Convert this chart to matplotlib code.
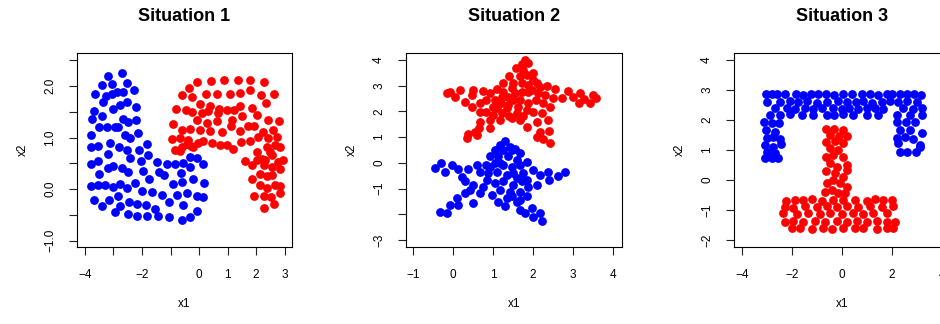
import numpy as np
import matplotlib.pyplot as plt

plt.rcParams['font.family'] = ['Liberation Sans', 'DejaVu Sans']

# --- Situation 1: two interleaved half-moons ---
s1_blue = np.array([
    [-2.71, 2.25], [-3.20, 2.19], [-2.53, 2.06], [-3.40, 2.02], [-3.04, 2.03], [-3.65, 1.85],
    [-2.29, 1.92], [-3.26, 1.80], [-3.06, 1.84], [-2.87, 1.89], [-2.65, 1.89], [-3.36, 1.69],
    [-2.54, 1.69], [-2.77, 1.63], [-3.01, 1.56], [-2.22, 1.60], [-3.70, 1.51], [-3.77, 1.36],
    [-3.39, 1.42], [-2.65, 1.36], [-2.48, 1.30], [-2.22, 1.34], [-3.51, 1.21], [-3.24, 1.21],
    [-2.95, 1.21], [-2.83, 1.21], [-3.79, 1.06], [-2.60, 1.06], [-2.42, 1.00], [-2.13, 1.08],
    [-3.79, 0.81], [-3.53, 0.84], [-3.12, 0.90], [-2.80, 0.81], [-2.54, 0.76], [-2.42, 0.61],
    [-2.09, 0.76], [-1.81, 0.87], [-3.18, 0.68], [-3.79, 0.48], [-3.53, 0.54], [-3.01, 0.45],
    [-3.18, 0.41], [-2.71, 0.42], [-2.48, 0.34], [-3.50, 0.30], [-2.04, 0.54], [-1.78, 0.66],
    [-1.95, 0.36], [-1.49, 0.53], [-1.13, 0.48], [-0.84, 0.48], [-1.39, 0.34], [-1.23, 0.27],
    [-0.55, 0.50], [-0.32, 0.63], [-0.08, 0.61], [-0.32, 0.43], [0.15, 0.48], [-0.64, 0.32],
    [-1.74, 0.19], [-2.25, 0.13], [-3.79, 0.06], [-3.53, 0.08], [-3.30, 0.08], [-3.03, 0.05],
    [-2.77, 0.11], [-2.54, 0.03], [-2.01, -0.04], [-1.66, -0.05], [-0.92, 0.10], [-0.61, 0.14],
    [-0.22, 0.19], [0.18, 0.13], [-3.67, -0.21], [-3.15, -0.21], [-3.39, -0.32], [-2.83, -0.13],
    [-2.77, -0.32], [-2.95, -0.44], [-2.44, -0.25], [-2.16, -0.29], [-1.86, -0.31], [-1.31, -0.12],
    [-1.04, -0.25], [-0.78, -0.12], [-0.43, -0.07], [-0.08, -0.13], [0.13, -0.15], [-0.55, -0.30],
    [-0.06, -0.42], [-1.54, -0.39], [-2.50, -0.49], [-2.16, -0.52], [-1.84, -0.52], [-1.43, -0.52],
    [-1.04, -0.54], [-0.61, -0.59], [-0.32, -0.54],
])
s1_red = np.array([
    [-0.06, 2.07], [0.41, 2.10], [0.89, 2.11], [1.36, 2.11], [1.80, 2.11], [2.28, 2.07],
    [-0.35, 1.97], [-0.61, 1.82], [0.23, 1.84], [0.62, 1.84], [1.09, 1.84], [1.42, 1.87],
    [1.80, 1.92], [2.19, 1.82], [2.62, 1.84], [-0.26, 1.79], [0.04, 1.66], [0.39, 1.61],
    [0.71, 1.56], [0.97, 1.53], [1.24, 1.54], [1.44, 1.61], [1.86, 1.58], [2.35, 1.67],
    [-0.80, 1.55], [-0.46, 1.53], [-0.23, 1.49], [0.12, 1.47], [0.30, 1.51], [0.68, 1.47],
    [-0.08, 1.34], [0.27, 1.29], [0.62, 1.32], [1.15, 1.34], [1.50, 1.41], [2.02, 1.43],
    [2.43, 1.34], [2.80, 1.32], [-0.90, 1.27], [-0.61, 1.14], [-0.32, 1.16], [0.04, 1.14],
    [0.39, 1.12], [0.82, 1.11], [1.11, 1.22], [1.42, 1.12], [1.73, 1.22], [1.91, 1.22],
    [2.26, 1.11], [2.61, 1.14], [-0.94, 0.98], [-0.67, 1.00], [-0.37, 0.95], [-0.84, 0.76],
    [-0.61, 0.82], [-0.43, 0.87], [-0.20, 0.82], [0.15, 0.94], [0.44, 0.89], [0.74, 0.85],
    [0.97, 0.85], [1.20, 0.77], [1.46, 0.92], [1.79, 0.94], [2.08, 1.01], [2.43, 1.00],
    [2.75, 1.01], [-0.67, 0.74], [-0.29, 0.83], [-0.02, 0.89], [1.61, 0.55], [1.85, 0.47],
    [2.02, 0.72], [2.20, 0.59], [2.37, 0.82], [2.67, 0.85], [2.84, 0.82], [2.55, 0.66],
    [2.78, 0.53], [2.94, 0.56], [2.02, 0.56], [2.32, 0.56], [2.84, 0.39], [2.14, 0.30],
    [2.37, 0.25], [2.57, 0.27], [1.85, 0.19], [2.14, 0.08], [2.37, 0.03], [2.67, 0.08],
    [2.84, 0.06], [1.91, -0.14], [2.28, -0.14], [2.51, -0.15], [2.84, -0.08], [2.63, -0.29],
    [2.28, -0.37], [2.49, 0.72], [2.28, 0.47], [2.55, 0.43],
])

# --- Situation 2: two stars ---
s2_red = np.array([
    [1.80, 3.99], [1.72, 3.84], [1.88, 3.86], [1.58, 3.67], [1.76, 3.60], [1.99, 3.50],
    [1.41, 3.37], [1.68, 3.35], [1.84, 3.41], [2.01, 3.22], [1.26, 3.11], [1.51, 3.09],
    [1.72, 3.09], [1.88, 3.02], [2.09, 3.09], [2.34, 2.98], [2.55, 2.86], [-0.08, 2.76],
    [-0.16, 2.70], [0.18, 2.83], [0.05, 2.57], [0.30, 2.38], [0.51, 2.83], [0.47, 2.64],
    [0.76, 2.80], [0.93, 2.70], [1.09, 2.86], [1.26, 2.76], [1.38, 2.57], [1.55, 2.70],
    [1.72, 2.76], [1.88, 2.76], [2.13, 2.70], [2.30, 2.64], [2.51, 2.51], [2.72, 2.51],
    [2.88, 2.80], [3.01, 2.57], [3.18, 2.70], [3.28, 2.47], [3.51, 2.64], [3.59, 2.51],
    [3.43, 2.34], [3.16, 2.31], [0.47, 2.18], [0.68, 2.31], [0.83, 2.44], [1.05, 2.44],
    [1.19, 2.31], [1.38, 2.25], [1.51, 2.44], [1.68, 2.44], [1.88, 2.31], [2.08, 2.42],
    [2.26, 2.31], [2.43, 2.18], [0.83, 1.99], [1.01, 1.86], [1.22, 1.93], [1.41, 1.82],
    [1.59, 1.95], [1.76, 1.80], [2.01, 1.99], [2.22, 1.93], [2.38, 1.67], [0.68, 1.60],
    [0.93, 1.67], [1.18, 1.67], [1.68, 1.67], [1.84, 1.41], [2.09, 1.60], [0.66, 1.34],
    [0.55, 1.21], [0.38, 1.12], [0.36, 0.96], [0.61, 1.09], [0.93, 1.34], [2.18, 1.21],
    [2.41, 1.25], [2.09, 1.02], [2.26, 0.92], [2.43, 0.79], [1.34, 2.12], [1.09, 2.12],
    [1.47, 2.89], [1.97, 2.83], [1.63, 2.18], [1.84, 2.05], [1.22, 2.57], [2.18, 2.96],
    [1.01, 2.18], [0.68, 1.99], [1.47, 1.73],
])
s2_blue = np.array([
    [1.30, 0.83], [1.18, 0.70], [1.43, 0.63], [1.05, 0.50], [1.26, 0.50], [1.55, 0.53],
    [1.68, 0.37], [0.93, 0.25], [1.13, 0.25], [1.38, 0.25], [1.59, 0.12], [0.83, -0.08],
    [1.05, -0.01], [1.26, -0.08], [1.47, -0.14], [1.68, -0.08], [1.84, 0.05], [-0.45, -0.21],
    [-0.31, -0.01], [-0.20, -0.37], [-0.03, -0.08], [0.13, -0.25], [0.22, -0.53], [0.38, -0.25],
    [0.59, -0.08], [0.68, -0.34], [0.88, -0.40], [1.09, -0.34], [1.34, -0.47], [1.51, -0.40],
    [1.76, -0.40], [2.01, -0.27], [2.18, -0.47], [2.38, -0.34], [2.63, -0.50], [2.80, -0.34],
    [2.41, -0.68], [2.09, -0.85], [0.30, -0.72], [0.51, -0.85], [0.68, -1.18], [0.84, -0.66],
    [1.05, -0.79], [1.26, -0.72], [1.51, -0.85], [1.72, -0.72], [1.88, -0.92], [0.97, -1.24],
    [1.18, -1.05], [1.43, -1.11], [1.68, -1.11], [1.84, -1.30], [0.30, -1.18], [0.09, -1.37],
    [-0.08, -1.63], [-0.33, -1.91], [-0.16, -1.95], [0.13, -1.63], [0.51, -1.54], [1.13, -1.50],
    [1.30, -1.69], [1.59, -1.50], [1.68, -1.82], [1.80, -1.95], [1.97, -1.76], [2.01, -2.08],
    [2.18, -1.95], [2.22, -2.24], [1.47, -1.30], [0.76, -0.92],
    [1.47, 0.50], [1.18, -0.01], [1.59, -0.59], [0.93, -0.14], [1.84, -0.66], [1.34, -1.37],
    [1.68, -1.43], [0.43, -1.05],
])

# --- Situation 3: a hook over an inverted T ---
s3_blue = np.array([
    [-3.04, 2.87], [-2.81, 2.86], [-2.59, 2.88], [-2.28, 2.85], [-1.84, 2.87], [-1.55, 2.84],
    [-1.25, 2.88], [-0.95, 2.85], [-0.64, 2.87], [-0.32, 2.84], [0.03, 2.86], [0.39, 2.88],
    [0.79, 2.85], [1.12, 2.87], [1.45, 2.84], [1.79, 2.86], [1.99, 2.88], [2.32, 2.86],
    [2.61, 2.85], [2.88, 2.87], [3.15, 2.84],
    [-2.99, 2.61], [-2.48, 2.59], [-2.08, 2.63], [-1.75, 2.60], [-1.39, 2.62], [-1.01, 2.58],
    [-0.61, 2.61], [-0.15, 2.63], [0.19, 2.59], [0.56, 2.61], [0.85, 2.64], [1.19, 2.58],
    [1.59, 2.61], [1.92, 2.63], [2.25, 2.60], [2.59, 2.62], [2.99, 2.59],
    [-2.68, 2.39], [-2.21, 2.41], [-1.88, 2.37], [-1.48, 2.40], [-1.15, 2.38], [-0.81, 2.41],
    [-0.35, 2.39], [-0.01, 2.37], [0.29, 2.40], [0.65, 2.38], [0.99, 2.41], [1.32, 2.39],
    [1.65, 2.37], [2.45, 2.40], [2.85, 2.38], [3.19, 2.41],
    [-2.88, 2.17], [-2.48, 2.15], [-2.08, 2.19], [-1.61, 2.16], [-1.15, 2.18], [-0.61, 2.15],
    [-0.32, 2.17], [0.05, 2.19], [0.45, 2.15], [0.99, 2.17], [1.45, 2.18], [2.19, 2.16],
    [2.72, 2.18], [3.19, 2.15],
    [-3.12, 1.94], [-2.81, 1.91], [-2.51, 1.89], [-3.04, 1.67], [-2.68, 1.61], [-2.99, 1.39],
    [-2.48, 1.36], [-3.08, 1.17], [-2.75, 1.11], [-2.45, 1.20], [-3.01, 0.94], [-2.68, 0.89],
    [-3.08, 0.72], [-2.81, 0.72], [-2.55, 0.72], [-2.77, 1.42],
    [2.19, 1.94], [2.56, 1.94], [2.92, 1.94], [2.32, 1.67], [2.72, 1.67], [3.19, 1.56],
    [2.19, 1.39], [2.52, 1.44], [2.83, 1.36], [2.25, 1.22], [3.12, 1.17], [2.32, 0.94],
    [2.61, 0.94], [2.96, 0.94], [3.12, 1.09],
])
s3_red = np.array([
    [-0.64, 1.69], [-0.32, 1.69], [0.03, 1.67], [-0.48, 1.50], [-0.11, 1.47], [0.21, 1.47],
    [-0.64, 1.28], [-0.28, 1.31], [0.05, 1.22], [-0.48, 1.06], [-0.15, 1.00], [-0.64, 0.78],
    [-0.35, 0.83], [0.03, 0.78], [0.19, 0.50], [-0.48, 0.56], [-0.21, 0.44], [-0.64, 0.31],
    [-0.28, 0.22], [0.05, 0.11], [0.19, 0.33], [-0.61, -0.11], [-0.35, 0.00], [-0.08, -0.11],
    [0.19, -0.22], [-0.68, -0.39], [-0.41, -0.33], [-0.15, -0.44], [0.12, -0.44],
    [-2.24, -0.69], [-1.88, -0.65], [-1.55, -0.68], [-1.21, -0.64], [-0.81, -0.70], [-0.35, -0.66],
    [0.05, -0.68], [0.52, -0.65], [0.99, -0.69], [1.32, -0.64], [1.65, -0.67], [1.99, -0.66],
    [-2.28, -0.89], [-1.95, -0.92], [-1.48, -0.87], [-1.01, -0.90], [-0.61, -0.88], [-0.21, -0.91],
    [0.19, -0.87], [0.65, -0.90], [1.12, -0.88], [1.59, -0.91], [2.05, -0.87],
    [-2.35, -1.11], [-1.81, -1.13], [-1.35, -1.09], [-0.88, -1.12], [-0.48, -1.10], [-0.01, -1.13],
    [0.45, -1.09], [0.85, -1.12], [1.25, -1.10], [1.79, -1.11],
    [-2.28, -1.39], [-1.95, -1.37], [-1.55, -1.41], [-1.08, -1.38], [-0.68, -1.40], [-0.21, -1.37],
    [0.19, -1.41], [0.59, -1.38], [0.99, -1.40], [1.39, -1.37], [1.79, -1.39], [2.12, -1.41],
    [-2.01, -1.61], [-1.68, -1.59], [-1.21, -1.62], [-0.75, -1.60], [-0.41, -1.62], [0.05, -1.59],
    [0.52, -1.61], [0.85, -1.60], [1.39, -1.62], [1.79, -1.59], [2.05, -1.61],
])

titles = ["Situation 1", "Situation 2", "Situation 3"]
x_ticks = [[-4, -3, -2, -1, 0, 1, 2, 3], [-1, 0, 1, 2, 3, 4], [-4, -2, 0, 2, 4]]
x_labels = [["\u22124", "", "\u22122", "", "0", "1", "2", "3"],
            ["\u22121", "0", "1", "2", "3", "4"],
            ["\u22124", "\u22122", "0", "2", "4"]]
y_ticks = [[-1.0, -0.5, 0.0, 0.5, 1.0, 1.5, 2.0, 2.5],
           [-3, -2, -1, 0, 1, 2, 3, 4],
           [-2, -1, 0, 1, 2, 3, 4]]
y_labels = [["\u22121.0", "", "0.0", "", "1.0", "", "2.0", ""],
            ["\u22123", "", "\u22121", "0", "1", "2", "3", "4"],
            ["\u22122", "\u22121", "0", "1", "2", "3", "4"]]
x_lims = [(-4.28, 3.26), (-1.18, 4.23), (-4.32, 4.32)]
y_lims = [(-1.12, 2.64), (-3.26, 4.26), (-2.23, 4.23)]
panels = [(s1_blue, s1_red), (s2_blue, s2_red), (s3_blue, s3_red)]

W, H = 940, 324
fig = plt.figure(figsize=(W / 100, H / 100), dpi=100)

# box edges in pixels: left, top, right, bottom (third panel runs off the right edge)
boxes = [(77, 53, 292, 247), (406, 53, 622, 247), (734, 53, 950, 247)]

for i, (l, t, r, b) in enumerate(boxes):
    ax = fig.add_axes([l / W, 1 - b / H, (r - l) / W, (b - t) / H])
    blue, red = panels[i]
    ax.scatter(blue[:, 0], blue[:, 1], s=40, color='#0000ff', linewidths=0, zorder=3)
    ax.scatter(red[:, 0], red[:, 1], s=40, color='#ff0000', linewidths=0, zorder=3)
    ax.set_xlim(*x_lims[i])
    ax.set_ylim(*y_lims[i])
    ax.set_xticks(x_ticks[i], x_labels[i])
    ax.set_yticks(y_ticks[i], y_labels[i])
    ax.tick_params(length=6, width=0.8, labelsize=8.5, direction='out', color='#222222')
    ax.tick_params(axis='x', pad=10)
    ax.tick_params(axis='y', pad=9)
    for lab in ax.get_yticklabels():
        lab.set_rotation(90)
        lab.set_va('center')
    for sp in ax.spines.values():
        sp.set_linewidth(0.8)

    cx = (l + r) / 2
    fig.text(cx / W, 1 - 16.5 / H, titles[i], ha='center', va='center',
             fontsize=13, fontweight='bold')
    fig.text(cx / W, 1 - 304 / H, "x1", ha='center', va='center', fontsize=8.5)
    fig.text((l - 54) / W, 1 - ((t + b) / 2) / H, "x2", ha='center', va='center',
             fontsize=8.5, rotation=90)

fig.savefig("out.png", dpi=100)
